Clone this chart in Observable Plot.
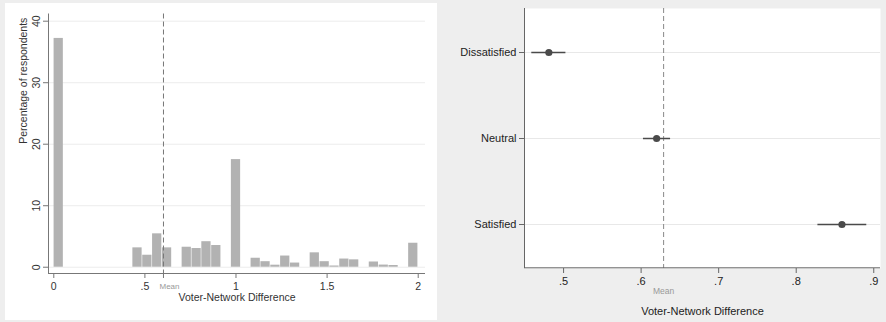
<!DOCTYPE html>
<html><head><meta charset="utf-8">
<script src="https://cdn.jsdelivr.net/npm/d3@7"></script>
<script src="https://cdn.jsdelivr.net/npm/@observablehq/plot@0.6"></script>
<style>
html,body{margin:0;padding:0;background:#eeeeee;}
#wrap{position:relative;width:886px;height:322px;overflow:hidden;background:#eeeeee;}
#wrap svg{position:absolute;}
</style></head><body><div id="wrap"></div>
<script>
// ---- Left panel: histogram of Voter-Network Difference ----
const binStart = [0, 0.4324, 0.4865, 0.5405, 0.5946, 0.7027, 0.7568, 0.8108, 0.8649, 0.9730,
  1.0811, 1.1351, 1.1892, 1.2432, 1.2973, 1.4054, 1.4595, 1.5135, 1.5676, 1.6216,
  1.7297, 1.7838, 1.8378, 1.9459];
const binPct = [37.2, 3.15, 1.95, 5.43, 3.15, 3.25, 3.04, 4.15, 3.53, 17.5,
  1.46, 0.9, 0.33, 1.82, 0.68, 2.34, 0.9, 0.2, 1.33, 1.2,
  0.85, 0.35, 0.28, 3.9];
const binWidth = 0.05405;
const meanLeft = 0.602;
const pctTicks = [0, 10, 20, 30, 40];
const diffTicksLeft = [0, 0.5, 1, 1.5, 2];
const leftXDomain = [-0.029, 2.04];
const leftYDomain = [-1.02, 41.17];

// ---- Right panel: mean difference by satisfaction ----
const groups = ["Dissatisfied", "Neutral", "Satisfied"];
const estimate = [0.481, 0.620, 0.859];
const ciLow = [0.459, 0.603, 0.828];
const ciHigh = [0.503, 0.638, 0.891];
const meanRight = 0.629;
const diffTicksRight = [0.5, 0.6, 0.7, 0.8, 0.9];
const rightXDomain = [0.4496, 0.9087];

const xLabel = "Voter-Network Difference";
const yLabel = "Percentage of respondents";
const meanLabel = "Mean";

const bins = binStart.map((s, i) => ({x0: s, x1: s + binWidth, pct: binPct[i]}));
const rows = groups.map((g, i) => ({group: g, est: estimate[i], lo: ciLow[i], hi: ciHigh[i]}));
const fmt = d => String(d).replace(/^0\./, ".");
const font = "'Liberation Sans', Arial, Helvetica, sans-serif";

const left = Plot.plot({
  width: 432, height: 317,
  marginLeft: 43, marginRight: 12, marginTop: 10.5, marginBottom: 47,
  style: {background: "white", fontFamily: font, fontSize: "10.5px", color: "#333", overflow: "visible"},
  x: {domain: leftXDomain},
  y: {domain: leftYDomain},
  marks: [
    Plot.gridY(pctTicks, {stroke: "#ececec", strokeOpacity: 1}),
    Plot.rectY(bins, {x1: "x0", x2: "x1", y: "pct", fill: "#b2b2b2", insetLeft: 0.3, insetRight: 0.3}),
    Plot.ruleX([meanLeft], {stroke: "#777", strokeWidth: 1, strokeDasharray: "5,3"}),
    Plot.ruleX([leftXDomain[0]], {stroke: "#777"}),
    Plot.ruleY([leftYDomain[0]], {stroke: "#777"}),
    Plot.axisY(pctTicks, {tickRotate: -90, tickSize: 5, tickPadding: 4, label: null, stroke: "#777", fill: "#333"}),
    Plot.axisX(diffTicksLeft, {tickFormat: fmt, tickSize: 5, tickPadding: 4, label: null, stroke: "#777", fill: "#333"}),
    Plot.axisX([meanLeft], {tickFormat: () => "", tickSize: 5, label: null, stroke: "#777"}),
    Plot.text([meanLabel], {x: meanLeft, frameAnchor: "bottom", dy: 12.7, dx: 6, lineAnchor: "middle", fontSize: 8, fill: "#999", text: d => d}),
    Plot.text([xLabel], {frameAnchor: "bottom", dy: 23.7, lineAnchor: "middle", fontSize: 10.5, fill: "#333", text: d => d}),
    Plot.text([yLabel], {frameAnchor: "left", dx: -25.3, rotate: -90, lineAnchor: "middle", fontSize: 10.5, fill: "#333", text: d => d})
  ]
});
left.style.left = "5px";
left.style.top = "3px";

const right = Plot.plot({
  width: 443, height: 322,
  marginLeft: 81, marginRight: 6, marginTop: 8, marginBottom: 54,
  style: {background: "#eeeeee", fontFamily: font, fontSize: "11px", color: "#222", overflow: "visible"},
  x: {domain: rightXDomain},
  y: {domain: groups, type: "point", padding: 0.5},
  marks: [
    Plot.frame({fill: "white", stroke: null}),
    Plot.gridY(groups, {stroke: "#e8e8e8", strokeOpacity: 1}),
    Plot.ruleX([meanRight], {stroke: "#888", strokeWidth: 1, strokeDasharray: "5,3"}),
    Plot.ruleY(rows, {y: "group", x1: "lo", x2: "hi", stroke: "#4a4a4a", strokeWidth: 1.5}),
    Plot.dot(rows, {y: "group", x: "est", r: 3.6, fill: "#4a4a4a", stroke: null}),
    Plot.ruleX([rightXDomain[0]], {stroke: "#666"}),
    Plot.ruleY([groups[groups.length - 1]], {stroke: "#666", dy: 43.3}),
    Plot.axisY(groups, {tickSize: 5, tickPadding: 3, label: null, stroke: "#666", fill: "#222"}),
    Plot.axisX(diffTicksRight, {tickFormat: fmt, tickSize: 5, tickPadding: 4, label: null, stroke: "#666", fill: "#222"}),
    Plot.text([meanLabel], {x: meanRight, frameAnchor: "bottom", dy: 22.7, lineAnchor: "middle", fontSize: 8.5, fill: "#999", text: d => d}),
    Plot.text([xLabel], {frameAnchor: "bottom", dy: 43, lineAnchor: "middle", fontSize: 11, fill: "#222", text: d => d})
  ]
});
right.style.left = "443px";
right.style.top = "0px";

const wrap = document.getElementById("wrap");
wrap.appendChild(left);
wrap.appendChild(right);
</script>
</body></html>
